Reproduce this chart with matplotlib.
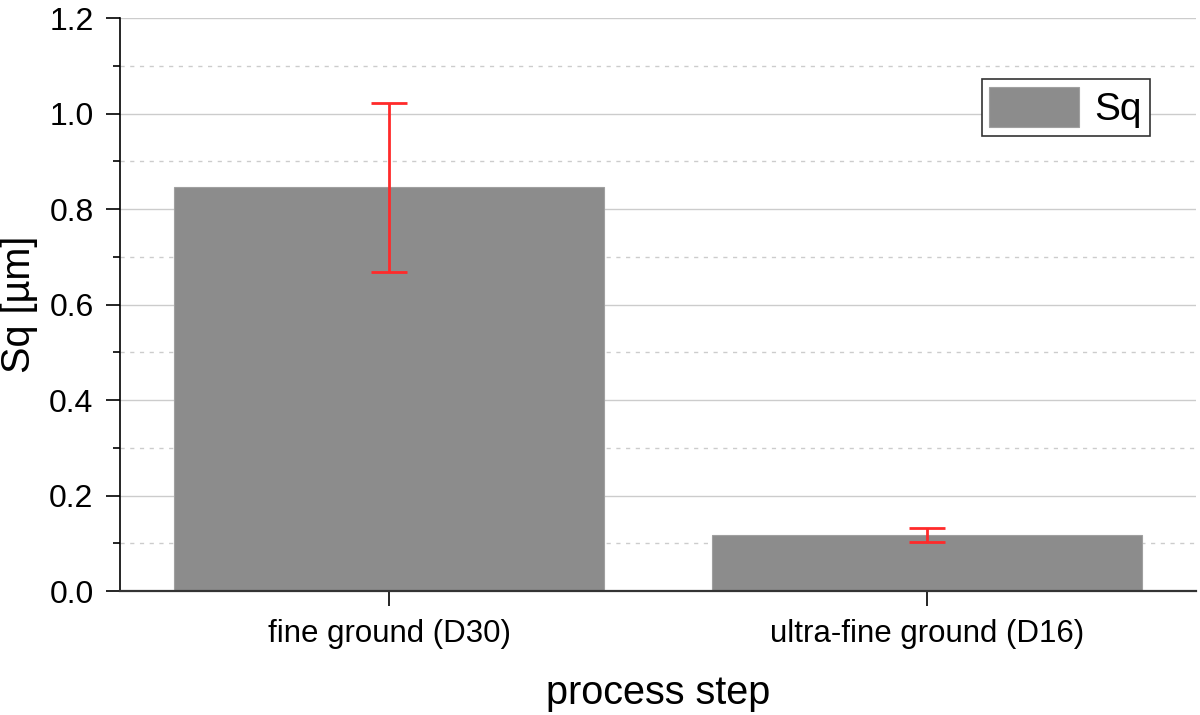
import matplotlib.pyplot as plt
from matplotlib.ticker import MultipleLocator

plt.rcParams["font.family"] = ["Liberation Sans", "DejaVu Sans"]

steps = ["fine ground (D30)", "ultra-fine ground (D16)"]
sq = [0.846, 0.117]
sq_err = [0.177, 0.015]

fig = plt.figure(figsize=(12, 7.15), dpi=100)
ax = fig.add_axes([0.1, 0.1734, 0.8967, 0.8014])

x = [1, 2]
ax.bar(x, sq, width=0.8, color="#8c8c8c", edgecolor="#a0a0a0", linewidth=0.8,
       label="Sq", zorder=2)
ax.errorbar(x, sq, yerr=sq_err, fmt="none", ecolor="#ff2a2a", elinewidth=2,
            capsize=13, capthick=2, zorder=3)

ax.set_xlim(0.5, 2.5)
ax.set_ylim(0, 1.2)
ax.set_xticks(x)
ax.set_xticklabels(steps, fontsize=22.5)
ax.yaxis.set_major_locator(MultipleLocator(0.2))
ax.yaxis.set_minor_locator(MultipleLocator(0.1))
ax.yaxis.set_major_formatter(plt.FuncFormatter(lambda v, p: f"{v:.1f}"))
ax.tick_params(axis="y", which="major", labelsize=23, length=10, width=1.2,
               direction="out", pad=9)
ax.tick_params(axis="y", which="minor", length=5, width=1.2, direction="out")
ax.tick_params(axis="x", length=11, width=1.2, direction="out", pad=9)

ax.grid(True, axis="y", which="major", color="#cccccc", linewidth=1, zorder=0)
ax.grid(True, axis="y", which="minor", color="#cccccc", linewidth=1,
        linestyle=(0, (3, 4)), zorder=0)
ax.set_axisbelow(True)

for s in ["top", "right"]:
    ax.spines[s].set_visible(False)
ax.spines["left"].set_linewidth(1.2)
ax.spines["bottom"].set_linewidth(1.6)
ax.spines["bottom"].set_color("#333333")

ax.set_ylabel("Sq [µm]", fontsize=28.5, labelpad=8)
ax.set_xlabel("process step", fontsize=28.5, labelpad=18)

leg = ax.legend(loc="upper right", bbox_to_anchor=(0.957, 0.893), fontsize=28,
                fancybox=False, framealpha=1, edgecolor="#333333",
                handlelength=2.3, handleheight=1.2, borderpad=0.2,
                handletextpad=0.4, borderaxespad=0)
leg.get_frame().set_linewidth(1.2)

fig.savefig("out.png", dpi=100)
